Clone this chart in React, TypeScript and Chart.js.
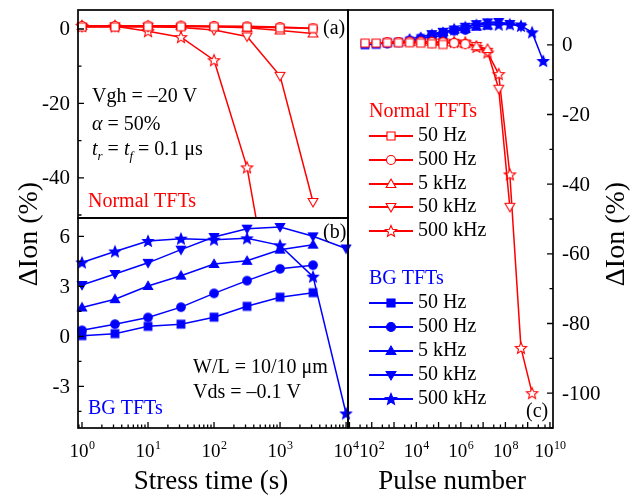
import React, { useEffect, useRef } from 'react';
import { Chart, registerables } from 'chart.js';
Chart.register(...registerables);

const FONT = "'Liberation Serif', 'Times New Roman', serif";
const RED = '#ff0000';
const BLUE = '#0000ff';

// ---------- data ----------
const stressTime = [1, 3.16, 10, 31.6, 100, 316, 1000, 3162, 10000]; // s
const freqLabels = ['50 Hz', '500 Hz', '5 kHz', '50 kHz', '500 kHz'];
const freqHz = [50, 500, 5000, 50000, 500000];

// Normal TFTs, ΔIon (%)
const normal50Hz = [0.5, 0.5, 0.6, 0.6, 0.6, 0.5, 0.3, 0.1];
const normal500Hz = [0.8, 0.8, 0.9, 0.9, 0.8, 0.7, 0.5, 0.2];
const normal5kHz = [0.8, 0.9, 0.9, 0.8, 0.6, 0.3, -0.4, -1.2];
const normal50kHz = [0.6, 0.7, 0.6, 0.4, -0.3, -2.0, -12.6, -46.5];
const normal500kHz = [0.8, 0.7, -0.6, -2.2, -8.4, -37.2, -87, -100];

// BG TFTs, ΔIon (%)
const bg50Hz = [0.04, 0.16, 0.6, 0.73, 1.15, 1.8, 2.35, 2.62];
const bg500Hz = [0.36, 0.73, 1.13, 1.75, 2.58, 3.34, 4.05, 4.27];
const bg5kHz = [1.73, 2.23, 3.02, 3.64, 4.34, 4.53, 5.2, 5.5];
const bg50kHz = [3.08, 3.74, 4.41, 5.2, 5.96, 6.46, 6.56, 6.0, 5.27];
const bg500kHz = [4.43, 5.09, 5.72, 5.86, 5.8, 5.88, 5.46, 3.58, -4.63];

// ticks
const aYMajor = [0, -20, -40];
const aYMinor = [-10, -30, -50];
const bYMajor = [6, 3, 0, -3];
const bYMinor = [4.5, 1.5, -1.5, -4.5];
const cYMajor = [0, -20, -40, -60, -80, -100];
const cYMinor = [-10, -30, -50, -70, -90, -110];
const stressMajorExps = [0, 1, 2, 3, 4];
const stressMinorMults = [2, 3, 4, 5, 6, 7, 8, 9];
const pulseMajorExps = [1, 2, 3, 4, 5, 6, 7, 8, 9, 10];
const pulseMinorMults = [3, 6];
const pulseLabelExps = [2, 4, 6, 8, 10];

const normalSeries = [normal50Hz, normal500Hz, normal5kHz, normal50kHz, normal500kHz];
const bgSeries = [bg50Hz, bg500Hz, bg5kHz, bg50kHz, bg500kHz];
const shapes = ['square', 'circle', 'triUp', 'triDown', 'star'];

// ---------- markers ----------
function pathShape(ctx: CanvasRenderingContext2D, shape: string, cx: number, cy: number, r: number) {
  ctx.beginPath();
  if (shape === 'square') {
    const s = r * 0.9;
    ctx.rect(cx - s, cy - s, 2 * s, 2 * s);
  } else if (shape === 'circle') {
    ctx.arc(cx, cy, r, 0, Math.PI * 2);
  } else if (shape === 'triUp' || shape === 'triDown') {
    const R = r * 1.25;
    const sg = shape === 'triUp' ? 1 : -1;
    for (let i = 0; i < 3; i++) {
      const a = -Math.PI / 2 + (i * 2 * Math.PI) / 3;
      const x = cx + R * Math.cos(a);
      const y = cy + sg * R * Math.sin(a) + sg * R * 0.12;
      if (i) ctx.lineTo(x, y);
      else ctx.moveTo(x, y);
    }
    ctx.closePath();
  } else {
    const R = r * 1.32;
    const ri = R * 0.45;
    for (let i = 0; i < 10; i++) {
      const a = -Math.PI / 2 + (i * Math.PI) / 5;
      const rr = i % 2 ? ri : R;
      const x = cx + rr * Math.cos(a);
      const y = cy + rr * Math.sin(a) + R * 0.08;
      if (i) ctx.lineTo(x, y);
      else ctx.moveTo(x, y);
    }
    ctx.closePath();
  }
}

function drawMarker(ctx: CanvasRenderingContext2D, shape: string, filled: boolean, color: string, cx: number, cy: number, r: number) {
  ctx.save();
  pathShape(ctx, shape, cx, cy, r);
  ctx.fillStyle = filled ? color : '#ffffff';
  ctx.fill();
  ctx.strokeStyle = color;
  ctx.lineWidth = 1.1;
  ctx.lineJoin = 'miter';
  ctx.stroke();
  ctx.restore();
}

function markerImage(shape: string, filled: boolean, color: string, r: number) {
  const size = 2 * Math.ceil(r * 1.45) + 4;
  const c = document.createElement('canvas');
  c.width = size;
  c.height = size;
  drawMarker(c.getContext('2d')!, shape, filled, color, size / 2, size / 2, r);
  return c;
}

// ---------- drawing helpers ----------
function frame(chart: any) {
  const { ctx, chartArea: a } = chart;
  ctx.save();
  ctx.strokeStyle = '#000';
  ctx.lineWidth = 1.7;
  ctx.strokeRect(a.left, a.top, a.right - a.left, a.bottom - a.top);
  ctx.restore();
}

function yTicks(chart: any, side: 'left' | 'right', majors: number[], minors: number[]) {
  const { ctx, chartArea: a } = chart;
  const y = chart.scales.y;
  const x0 = side === 'left' ? a.left : a.right;
  const dir = side === 'left' ? 1 : -1;
  ctx.save();
  ctx.strokeStyle = '#000';
  ctx.lineWidth = 1.3;
  ctx.beginPath();
  for (const v of majors) {
    const py = y.getPixelForValue(v);
    ctx.moveTo(x0, py);
    ctx.lineTo(x0 + dir * 6, py);
  }
  for (const v of minors) {
    if (v < y.min || v > y.max) continue;
    const py = y.getPixelForValue(v);
    ctx.moveTo(x0, py);
    ctx.lineTo(x0 + dir * 3.5, py);
  }
  ctx.stroke();
  ctx.font = `21px ${FONT}`;
  ctx.fillStyle = '#000';
  ctx.textBaseline = 'middle';
  ctx.textAlign = side === 'left' ? 'right' : 'left';
  for (const v of majors) {
    ctx.fillText(String(v), side === 'left' ? a.left - 8 : a.right + 9, y.getPixelForValue(v) + 1);
  }
  ctx.restore();
}

function drawPow(ctx: CanvasRenderingContext2D, cx: number, baseY: number, e: number) {
  ctx.font = `19px ${FONT}`;
  const w1 = ctx.measureText('10').width;
  ctx.font = `12px ${FONT}`;
  const w2 = ctx.measureText(String(e)).width;
  const left = cx - (w1 + w2) / 2;
  ctx.textAlign = 'left';
  ctx.textBaseline = 'alphabetic';
  ctx.fillStyle = '#000';
  ctx.font = `19px ${FONT}`;
  ctx.fillText('10', left, baseY);
  ctx.font = `12px ${FONT}`;
  ctx.fillText(String(e), left + w1 + 0.5, baseY - 8);
}

function xLogTicks(chart: any, majorExps: number[], minorMults: number[], labelExps: number[]) {
  const { ctx, chartArea: a } = chart;
  const x = chart.scales.x;
  ctx.save();
  ctx.strokeStyle = '#000';
  ctx.lineWidth = 1.3;
  ctx.beginPath();
  for (const e of majorExps) {
    const px = x.getPixelForValue(Math.pow(10, e));
    ctx.moveTo(px, a.bottom);
    ctx.lineTo(px, a.bottom - 6);
  }
  const lo = Math.floor(Math.log10(x.min));
  const hi = Math.ceil(Math.log10(x.max));
  for (let e = lo; e <= hi; e++) {
    for (const m of minorMults) {
      const v = m * Math.pow(10, e);
      if (v < x.min || v > x.max) continue;
      const px = x.getPixelForValue(v);
      ctx.moveTo(px, a.bottom);
      ctx.lineTo(px, a.bottom - 3.5);
    }
  }
  ctx.stroke();
  for (const e of labelExps) drawPow(ctx, x.getPixelForValue(Math.pow(10, e)), 457, e);
  ctx.restore();
}

type Seg = { t: string; size?: number; italic?: boolean; dy?: number };
function drawRich(ctx: CanvasRenderingContext2D, x: number, cy: number, segs: Seg[], color: string, baseSize: number) {
  ctx.save();
  let cx = x;
  const base = cy + 0.33 * baseSize;
  ctx.textAlign = 'left';
  ctx.textBaseline = 'alphabetic';
  ctx.fillStyle = color;
  for (const s of segs) {
    const size = s.size ?? baseSize;
    ctx.font = `${s.italic ? 'italic ' : ''}${size}px ${FONT}`;
    ctx.fillText(s.t, cx, base + (s.dy ?? 0));
    cx += ctx.measureText(s.t).width;
  }
  ctx.restore();
}

function text(ctx: CanvasRenderingContext2D, s: string, x: number, cy: number, color: string, size: number, align: CanvasTextAlign = 'left') {
  ctx.save();
  ctx.font = `${size}px ${FONT}`;
  ctx.fillStyle = color;
  ctx.textAlign = align;
  ctx.textBaseline = 'middle';
  ctx.fillText(s, x, cy);
  ctx.restore();
}

function vText(ctx: CanvasRenderingContext2D, s: string, x: number, cy: number, size: number) {
  ctx.save();
  ctx.translate(x, cy);
  ctx.rotate(-Math.PI / 2);
  ctx.font = `${size}px ${FONT}`;
  ctx.fillStyle = '#000';
  ctx.textAlign = 'center';
  ctx.textBaseline = 'middle';
  ctx.fillText(s, 0, 0);
  ctx.restore();
}

function legendGroup(ctx: CanvasRenderingContext2D, title: string, color: string, filled: boolean, x: number, titleY: number, ys: number[]) {
  text(ctx, title, x, titleY, color, 20);
  ys.forEach((y, i) => {
    ctx.save();
    ctx.strokeStyle = color;
    ctx.lineWidth = 2;
    ctx.beginPath();
    ctx.moveTo(x, y);
    ctx.lineTo(x + 44, y);
    ctx.stroke();
    ctx.restore();
    drawMarker(ctx, shapes[i], filled, color, x + 22, y, 4.5);
    text(ctx, freqLabels[i], x + 49, y, '#000', 20);
  });
}

// ---------- chart factory ----------
function makeChart(canvas: HTMLCanvasElement, datasets: any[], xr: [number, number], yr: [number, number], area: { l: number; t: number; r: number; b: number }, decor: (c: any) => void) {
  return new Chart(canvas, {
    type: 'line',
    data: { datasets },
    options: {
      responsive: false,
      maintainAspectRatio: false,
      animation: false,
      events: [],
      layout: { padding: { left: area.l, top: area.t, right: 640 - area.r, bottom: 497 - area.b } },
      plugins: { legend: { display: false }, tooltip: { enabled: false }, title: { display: false } },
      scales: {
        x: { type: 'logarithmic', min: xr[0], max: xr[1], display: false },
        y: { type: 'linear', min: yr[0], max: yr[1], display: false },
      },
    } as any,
    plugins: [{ id: 'decor', afterDraw: (c: any) => decor(c) }],
  });
}

function series(xs: number[], ys: number[], color: string, img: HTMLCanvasElement, clip: any) {
  return {
    data: ys.map((y, i) => ({ x: xs[i], y })),
    borderColor: color,
    backgroundColor: color,
    borderWidth: 1.5,
    pointStyle: img,
    pointRadius: 4,
    tension: 0,
    fill: false,
    clip,
  };
}

export default function App() {
  const refA = useRef<HTMLCanvasElement>(null);
  const refB = useRef<HTMLCanvasElement>(null);
  const refC = useRef<HTMLCanvasElement>(null);

  useEffect(() => {
    const redImgs = shapes.map((s) => markerImage(s, false, RED, 4.5));
    const blueImgs = shapes.map((s) => markerImage(s, true, BLUE, 4.3));
    const xRangeT: [number, number] = [0.87, 10700];
    const xRangeP: [number, number] = [8.6, 1.37e10];

    const chartA = makeChart(
      refA.current!,
      normalSeries.map((ys, k) => series(stressTime, ys, RED, redImgs[k], { left: 6, top: 6, right: 6, bottom: 0 })),
      xRangeT,
      [-50.8, 5.1],
      { l: 78, t: 10, r: 348, b: 218 },
      (c) => {
        const ctx = c.ctx;
        frame(c);
        yTicks(c, 'left', aYMajor, aYMinor);
        text(ctx, '(a)', 323, 29, '#000', 20);
        text(ctx, 'Vgh = \u201320 V', 92, 97, '#000', 20);
        drawRich(ctx, 92, 123, [{ t: '\u03b1', italic: true }, { t: ' = 50%' }], '#000', 20);
        drawRich(
          ctx,
          92,
          148,
          [
            { t: 't', italic: true },
            { t: 'r', italic: true, size: 13, dy: 5 },
            { t: ' = ' },
            { t: 't', italic: true },
            { t: 'f', italic: true, size: 13, dy: 5 },
            { t: ' = 0.1 \u03bcs' },
          ],
          '#000',
          20
        );
        text(ctx, 'Normal TFTs', 88, 202, RED, 20);
      }
    );

    const chartB = makeChart(
      refB.current!,
      bgSeries.map((ys, k) => series(stressTime, ys, BLUE, blueImgs[k], { left: 6, top: 0, right: 6, bottom: 6 })),
      xRangeT,
      [-5.5, 7.1],
      { l: 78, t: 218, r: 348, b: 428 },
      (c) => {
        const ctx = c.ctx;
        frame(c);
        yTicks(c, 'left', bYMajor, bYMinor);
        xLogTicks(c, stressMajorExps, stressMinorMults, stressMajorExps);
        text(ctx, '(b)', 323, 233, '#000', 20);
        text(ctx, 'W/L = 10/10 \u03bcm', 193, 368, '#000', 20);
        text(ctx, 'Vds = \u20130.1 V', 193, 393, '#000', 20);
        text(ctx, 'BG TFTs', 88, 409, BLUE, 20);
        text(ctx, 'Stress time (s)', 211, 482, '#000', 27, 'center');
        vText(ctx, '\u0394Ion (%)', 30, 234, 28);
      }
    );

    const pulses = (k: number) => stressTime.map((t) => t * freqHz[k]);
    const chartC = makeChart(
      refC.current!,
      [
        ...normalSeries.map((ys, k) => series(pulses(k), ys, RED, redImgs[k], 6)),
        ...bgSeries.map((ys, k) => series(pulses(k), ys, BLUE, blueImgs[k], 6)),
      ],
      xRangeP,
      [-110, 10],
      { l: 348, t: 10, r: 553, b: 428 },
      (c) => {
        const ctx = c.ctx;
        frame(c);
        yTicks(c, 'right', cYMajor, cYMinor);
        xLogTicks(c, pulseMajorExps, pulseMinorMults, pulseLabelExps);
        text(ctx, '(c)', 526, 412, '#000', 20);
        legendGroup(ctx, 'Normal TFTs', RED, false, 369, 112, [136, 160, 184, 207, 231]);
        legendGroup(ctx, 'BG TFTs', BLUE, true, 369, 279, [303, 327, 351, 375, 399]);
        text(ctx, 'Pulse number', 452, 482, '#000', 27, 'center');
        vText(ctx, '\u0394Ion (%)', 617, 234, 28);
      }
    );

    return () => {
      chartA.destroy();
      chartB.destroy();
      chartC.destroy();
    };
  }, []);

  const cs: React.CSSProperties = { position: 'absolute', left: 0, top: 0, width: 640, height: 497 };
  return (
    <div style={{ position: 'absolute', left: 0, top: 0, width: 640, height: 497, background: '#fff' }}>
      <canvas ref={refC} width={640} height={497} style={cs} />
      <canvas ref={refB} width={640} height={497} style={cs} />
      <canvas ref={refA} width={640} height={497} style={cs} />
    </div>
  );
}
